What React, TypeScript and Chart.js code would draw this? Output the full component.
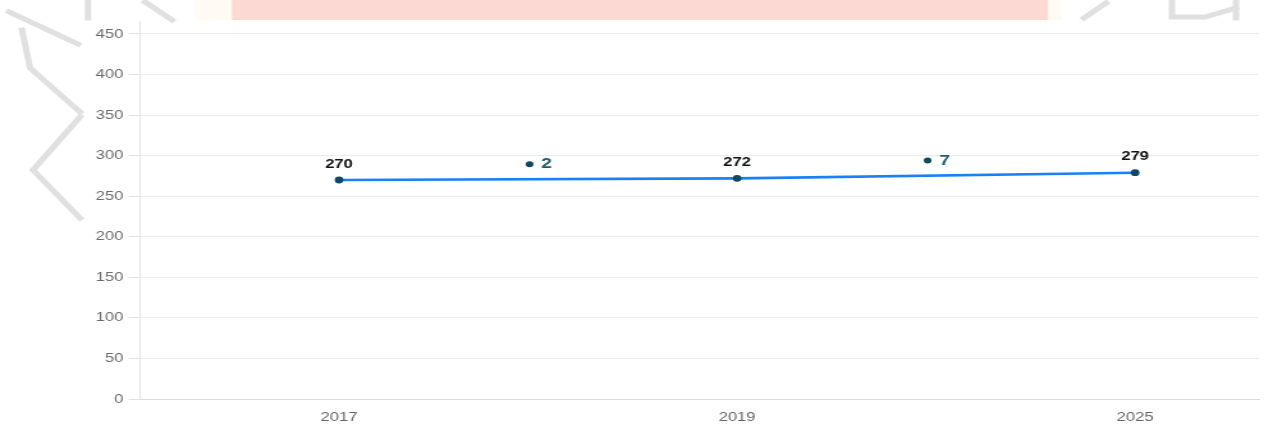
import React, { useEffect, useRef } from "react";
import { Chart, registerables } from "chart.js";

Chart.register(...registerables);

// ---- data ----
const categories: string[] = ["2017", "2019", "2025"];
const values: number[] = [270, 272, 279];
const yTickValues: number[] = [0, 50, 100, 150, 200, 250, 300, 350, 400, 450];
const yMax = 466;

// ---- layout (the reference is horizontally stretched; draw narrow, stretch with CSS) ----
const OUT_W = 1264;
const OUT_H = 426;
const STRETCH = 1.2794;
const CANVAS_W = Math.round(OUT_W / STRETCH);
const FONT = "'Liberation Sans', Arial, Helvetica, sans-serif";

const sx = (x: number) => x / STRETCH;

const decorPlugin = {
  id: "decor",
  beforeDraw(chart: any) {
    const ctx = chart.ctx as CanvasRenderingContext2D;
    ctx.save();
    // pale top band
    ctx.fillStyle = "#fffaf3";
    ctx.fillRect(sx(195), 0, sx(1062) - sx(195), 20);
    ctx.fillStyle = "#fdd9d4";
    ctx.fillRect(sx(232), 0, sx(1048) - sx(232), 20);
    // faint grey pixel strokes
    ctx.strokeStyle = "#e0e0e0";
    ctx.lineWidth = 5;
    ctx.lineCap = "square";
    ctx.lineJoin = "miter";
    const lines: number[][][] = [
      [[9, 12], [78, 44]],
      [[22, 30], [30, 68], [80, 112]],
      [[80, 117], [33, 170], [80, 218]],
      [[88, 0], [88, 18]],
      [[145, 2], [172, 20]],
      [[1106, 3], [1084, 18]],
      [[1172, 0], [1172, 17], [1205, 17], [1236, 8]],
      [[1236, 0], [1236, 18]],
    ];
    for (const pts of lines) {
      ctx.beginPath();
      pts.forEach(([x, y], i) => (i ? ctx.lineTo(sx(x), y) : ctx.moveTo(sx(x), y)));
      ctx.stroke();
    }
    ctx.restore();
  },
};

const labelPlugin = {
  id: "valueLabels",
  afterDatasetsDraw(chart: any) {
    const ctx = chart.ctx as CanvasRenderingContext2D;
    const meta = chart.getDatasetMeta(0);
    const pts = meta.data;
    ctx.save();
    // value labels above points
    ctx.font = `bold 13px ${FONT}`;
    ctx.fillStyle = "#111111";
    ctx.textAlign = "center";
    ctx.textBaseline = "middle";
    pts.forEach((p: any, i: number) => {
      ctx.fillText(String(values[i]), p.x, p.y - 16);
    });
    // change markers between points
    for (let i = 0; i < pts.length - 1; i++) {
      const a = pts[i];
      const b = pts[i + 1];
      const mx = (a.x + b.x) / 2;
      const my = (a.y + b.y) / 2 - 15;
      ctx.fillStyle = "#0f4a5e";
      ctx.beginPath();
      ctx.arc(mx - 6.6, my, 3, 0, Math.PI * 2);
      ctx.fill();
      ctx.font = `bold 15px ${FONT}`;
      ctx.fillStyle = "#1f5d6d";
      ctx.textAlign = "left";
      ctx.fillText(String(values[i + 1] - values[i]), mx + 2.5, my);
    }
    ctx.restore();
  },
};

export default function App() {
  const ref = useRef<HTMLCanvasElement | null>(null);

  useEffect(() => {
    document.body.style.margin = "0";
    const canvas = ref.current!;
    canvas.width = CANVAS_W;
    canvas.height = OUT_H;
    canvas.style.width = OUT_W + "px";
    canvas.style.height = OUT_H + "px";

    const chart = new Chart(canvas, {
      type: "line",
      data: {
        datasets: [
          {
            data: values.map((v, i) => ({ x: i, y: v })),
            borderColor: "#1a80f5",
            borderWidth: 2.6,
            pointRadius: 3.4,
            pointBackgroundColor: "#0d4866",
            pointBorderWidth: 0,
            fill: false,
            tension: 0,
          },
        ],
      },
      options: {
        responsive: false,
        maintainAspectRatio: false,
        animation: false,
        devicePixelRatio: 1,
        layout: { padding: { top: 21, right: CANVAS_W - sx(1260), bottom: 0, left: 0 } },
        plugins: { legend: { display: false }, tooltip: { enabled: false } },
        scales: {
          x: {
            type: "linear",
            min: -0.5,
            max: 2.311,
            grid: { display: false, drawTicks: false },
            border: { display: true, color: "#dcdcdc" },
            ticks: {
              padding: 11,
              color: "#666666",
              font: { family: FONT, size: 13 },
              callback: (v: any) => categories[v] ?? "",
            },
            afterBuildTicks: (s: any) => {
              s.ticks = categories.map((_, i) => ({ value: i }));
            },
            afterFit: (s: any) => {
              s.height = 27;
            },
          },
          y: {
            type: "linear",
            min: 0,
            max: yMax,
            grid: { color: "#ececec", tickLength: 9, tickColor: "#e2e2e2" },
            border: { display: true, color: "#e2e2e2" },
            ticks: {
              padding: 4,
              color: "#6b6b6b",
              font: { family: FONT, size: 13 },
            },
            afterBuildTicks: (s: any) => {
              s.ticks = yTickValues.map((v) => ({ value: v }));
            },
            afterFit: (s: any) => {
              s.width = sx(140);
            },
          },
        },
      },
      plugins: [decorPlugin, labelPlugin],
    } as any);

    return () => chart.destroy();
  }, []);

  return (
    <div style={{ width: OUT_W, height: OUT_H, background: "#ffffff" }}>
      <canvas ref={ref} style={{ display: "block", width: OUT_W, height: OUT_H }} />
    </div>
  );
}
